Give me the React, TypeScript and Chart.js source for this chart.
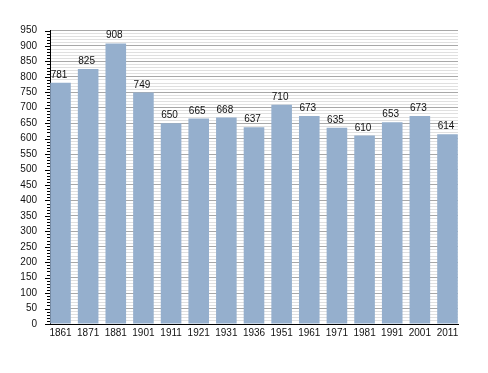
import React, { useEffect, useRef } from "react";
import { Chart, registerables } from "chart.js";

Chart.register(...registerables);

const years = ["1861", "1871", "1881", "1901", "1911", "1921", "1931", "1936", "1951", "1961", "1971", "1981", "1991", "2001", "2011"];
const population = [781, 825, 908, 749, 650, 665, 668, 637, 710, 673, 635, 610, 653, 673, 614];
const yMax = 950;

const FONT = '"Liberation Sans", Arial, sans-serif';

const valueLabels = {
  id: "valueLabels",
  afterDatasetsDraw(chart: any) {
    const ctx = chart.ctx;
    const meta = chart.getDatasetMeta(0);
    ctx.save();
    ctx.font = `10px ${FONT}`;
    ctx.fillStyle = "#111";
    ctx.textAlign = "center";
    ctx.textBaseline = "alphabetic";
    meta.data.forEach((bar: any, i: number) => {
      ctx.fillText(String(population[i]), bar.x - 1.5, bar.y - 5);
    });
    ctx.restore();
  },
};

const yTicks = {
  id: "yTicks",
  afterDraw(chart: any) {
    const ctx = chart.ctx;
    const y = chart.scales.y;
    const left = chart.chartArea.left;
    ctx.save();
    ctx.strokeStyle = "#000";
    ctx.lineWidth = 1;
    for (let v = 0; v <= yMax; v += 10) {
      const py = Math.round(y.getPixelForValue(v)) + 0.5;
      const len = v % 50 === 0 ? 5 : 3;
      ctx.beginPath();
      ctx.moveTo(left - len, py);
      ctx.lineTo(left, py);
      ctx.stroke();
    }
    ctx.restore();
  },
};

export default function App() {
  const ref = useRef<HTMLCanvasElement>(null);
  useEffect(() => {
    document.body.style.margin = "0";
    const chart = new Chart(ref.current!, {
      type: "bar",
      data: {
        datasets: [
          {
            data: population.map((v, i) => ({ x: i, y: v })),
            backgroundColor: "#95AFCD",
            borderWidth: 0,
            barPercentage: 0.745,
            categoryPercentage: 1,
          },
        ],
      },
      options: {
        responsive: false,
        animation: false,
        layout: { padding: { top: 30.5, right: 30, left: 0, bottom: 0 } },
        plugins: { legend: { display: false }, tooltip: { enabled: false } },
        scales: {
          x: {
            type: "linear",
            offset: false,
            min: -0.38,
            max: 14.38,
            afterBuildTicks: (scale: any) => {
              scale.ticks = years.map((_, i) => ({ value: i }));
            },
            afterFit: (scale: any) => {
              scale.height = 49;
            },
            grid: { display: false, drawTicks: false, offset: false },
            border: { display: true, color: "#000", width: 1 },
            ticks: {
              autoSkip: false,
              maxRotation: 0,
              padding: 3,
              color: "#111",
              font: { family: FONT, size: 10 },
              callback: (v: any) => years[Math.round(Number(v))] ?? "",
            },
          },
          y: {
            min: 0,
            max: yMax,
            afterFit: (scale: any) => {
              scale.width = 50;
            },
            grid: {
              drawTicks: false,
              color: (c: any) => (c.tick && c.tick.value % 50 === 0 ? "#a8a8a8" : "#e0e0e0"),
              lineWidth: 1,
            },
            border: { display: true, color: "#000", width: 1 },
            ticks: {
              stepSize: 10,
              autoSkip: false,
              padding: 13,
              color: "#111",
              font: { family: FONT, size: 10 },
              callback: (v: any) => (Number(v) % 50 === 0 ? String(v) : ""),
            },
          },
        },
      },
      plugins: [valueLabels, yTicks],
    });
    return () => chart.destroy();
  }, []);
  return (
    <div style={{ width: 488, height: 373 }}>
      <canvas ref={ref} width={488} height={373} />
    </div>
  );
}
